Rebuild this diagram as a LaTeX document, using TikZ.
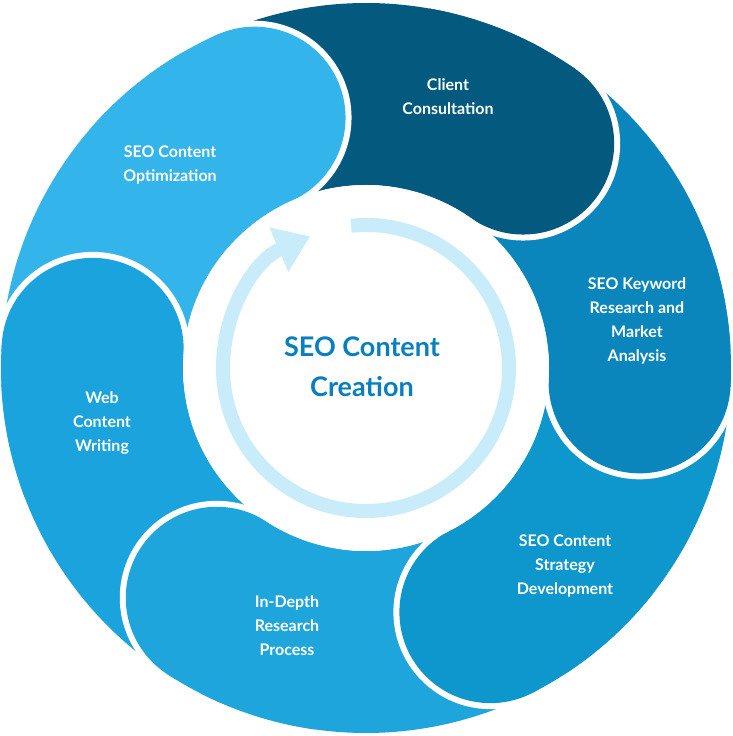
\documentclass[tikz,border=0pt]{standalone}
\usepackage{fontspec}
\setmainfont{Lato}
\usetikzlibrary{arrows.meta}
\definecolor{cOpt}{HTML}{33B5EC}
\definecolor{cCli}{HTML}{035A7E}
\definecolor{cKey}{HTML}{0A86BD}
\definecolor{cStr}{HTML}{0D97CD}
\definecolor{cDep}{HTML}{1EA6DC}
\definecolor{cWeb}{HTML}{1AA3DC}
\definecolor{cCen}{HTML}{0A7FBF}
\definecolor{cRing}{HTML}{C9ECFB}
\tikzset{lbl/.style={text=white,font=\bfseries\fontsize{16}{24}\selectfont,align=center}}
\begin{document}
\begin{tikzpicture}[x=1pt,y=1pt]
\useasboundingbox (0,0) rectangle (732,736);
\begin{scope}[shift={(366,368)}]
\foreach \c/\s/\e in {cOpt/176/114, cCli/114/55, cKey/55/-3, cStr/-3/-63, cDep/-63/-123, cWeb/-123/-184}{
  \fill[\c] (\s:365) arc[start angle=\s,end angle=\e,radius=365] -- (\e:183) arc[start angle=\e,end angle=\s,radius=183] -- cycle;
}
\foreach \c/\e in {cOpt/114, cCli/55, cKey/-3, cStr/-63, cDep/-123, cWeb/-184}{
  \fill[white] (\e:274) circle (97);
  \fill[\c] (\e:274) circle (91);
  \pgfmathsetmacro\b{\e+25}
  \fill[\c] (\b:365) arc[start angle=\b,end angle=\e,radius=365] -- (\e:183) arc[start angle=\e,end angle=\b,radius=183] -- cycle;
}
\fill[white] (0,0) circle (183);
\draw[cRing,line width=14,-{Triangle[length=34,width=46]}] (96:143) arc[start angle=96,end angle=-247,radius=143];
\end{scope}
\node[lbl] (cli) at (448,639) {Client\\Consultation};
\node[lbl] (opt) at (170,571) {SEO Content\\Optimization};
\node[lbl] (key) at (637,415) {SEO Keyword\\Research and\\Market\\Analysis};
\node[lbl] (web) at (102,313) {Web\\Content\\Writing};
\node[lbl] (str) at (565,170) {SEO Content\\Strategy\\Development};
\node[lbl] (dep) at (287,110) {In-Depth\\Research\\Process};
\node[text=cCen,font=\bfseries\fontsize{27}{40}\selectfont,align=center] (cen) at (362,369) {SEO Content\\Creation};
\end{tikzpicture}
\end{document}
